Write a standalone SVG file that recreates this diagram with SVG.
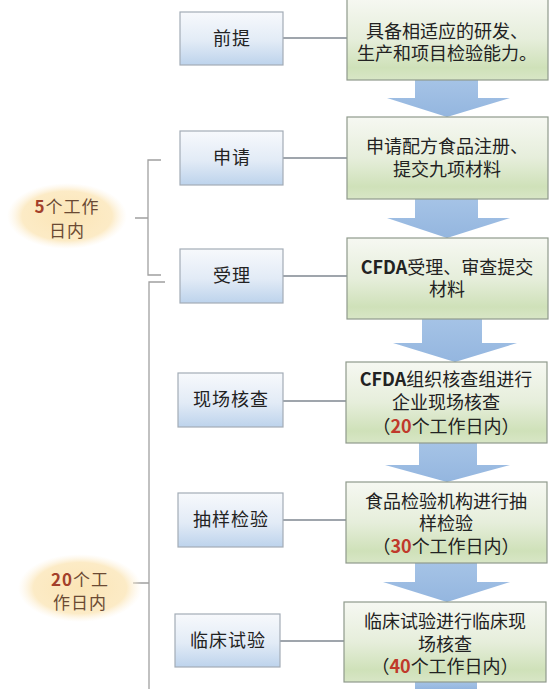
<svg xmlns="http://www.w3.org/2000/svg" width="558" height="689" viewBox="0 0 558 689">
<defs>
<linearGradient id="gBlue" x1="0" y1="0" x2="0" y2="1">
<stop offset="0" stop-color="#f7f9fc"/>
<stop offset="0.55" stop-color="#e2ebf6"/>
<stop offset="1" stop-color="#bdd3ec"/>
</linearGradient>
<linearGradient id="gGreen" x1="0" y1="0" x2="0" y2="1">
<stop offset="0" stop-color="#f6f8f2"/>
<stop offset="0.5" stop-color="#e6eedb"/>
<stop offset="0.85" stop-color="#cfe1b9"/>
<stop offset="1" stop-color="#d8e6c6"/>
</linearGradient>
<linearGradient id="gArrow" x1="0" y1="0" x2="0" y2="1">
<stop offset="0" stop-color="#a5c3e6"/>
<stop offset="1" stop-color="#94b6df"/>
</linearGradient>
<radialGradient id="gEll" cx="0.5" cy="0.5" r="0.5">
<stop offset="0" stop-color="#fbe5b6"/>
<stop offset="0.75" stop-color="#fcebc6"/>
<stop offset="1" stop-color="#fdf3e0" stop-opacity="0"/>
</radialGradient>
<style>
.lb{fill:url(#gBlue);stroke:#a3acb6;stroke-width:1.2}
.rb{fill:url(#gGreen);stroke:#8f9a8c;stroke-width:1.2}
.t{font-family:"Noto Sans CJK SC","Noto Sans",sans-serif;font-size:18px;fill:#222;text-anchor:middle}
.lt{letter-spacing:1px}
.b{font-weight:bold}
.red{fill:#c0392b;font-weight:bold}
.et{font-family:"Noto Sans CJK SC","Noto Sans",sans-serif;font-size:17px;fill:#6b4a33;text-anchor:middle;letter-spacing:1px}
.num{fill:#a3402a;font-weight:bold}
.ln{stroke:#7f8790;stroke-width:1.3;fill:none}
.br{stroke:#a0a0a0;stroke-width:1.3;fill:none}
.ar{fill:url(#gArrow)}
</style>
</defs>
<rect width="558" height="689" fill="#ffffff"/>

<g id="connectors">
<line class="ln" x1="283" y1="38" x2="347" y2="38"/>
<line class="ln" x1="283" y1="158" x2="347" y2="158"/>
<line class="ln" x1="283" y1="276" x2="347" y2="276"/>
<line class="ln" x1="283" y1="401" x2="346" y2="401"/>
<line class="ln" x1="283" y1="520" x2="346" y2="520"/>
<line class="ln" x1="280" y1="641" x2="344" y2="641"/>
<polygon class="ar" points="415,80 478,80 478,98 510,98 447,117 387,98 415,98"/>
<polygon class="ar" points="415,199 478,199 478,218 510,218 447,238 387,218 415,218"/>
<polygon class="ar" points="422,319 482,319 482,343 517,343 455,362 393,343 422,343"/>
<polygon class="ar" points="419,443 477,443 477,465 510,465 447,482 385,465 419,465"/>
<polygon class="ar" points="415,563 477,563 477,582 510,582 447,602 383,582 415,582"/>
<rect class="ar" x="415" y="682" width="62" height="7"/>
<path class="br" d="M161,160 L148,160 L148,275 L161,275 M148,218 L135,218"/>
<path class="br" d="M165,282 L149,282 L149,689 M149,583 L133,583"/>
</g>

<g id="n-5days">
<ellipse cx="67" cy="216" rx="60" ry="33" fill="url(#gEll)"/>
<text class="et" x="67" y="213"><tspan class="num">5</tspan>个工作</text>
<text class="et" x="67" y="237">日内</text>
</g>
<g id="n-20days">
<ellipse cx="80" cy="588" rx="62" ry="34" fill="url(#gEll)"/>
<text class="et" x="80" y="586"><tspan class="num">20</tspan>个工</text>
<text class="et" x="80" y="609">作日内</text>
</g>

<g id="n-qianti">
<rect class="lb" x="180" y="12" width="103" height="53"/>
<text class="t lt" x="232" y="45">前提</text>
</g>
<g id="n-shenqing">
<rect class="lb" x="180" y="131" width="103" height="54"/>
<text class="t lt" x="232" y="164">申请</text>
</g>
<g id="n-shouli">
<rect class="lb" x="180" y="249" width="103" height="54"/>
<text class="t lt" x="232" y="282">受理</text>
</g>
<g id="n-xianchang">
<rect class="lb" x="178" y="373" width="105" height="54"/>
<text class="t lt" x="231" y="406">现场核查</text>
</g>
<g id="n-chouyang">
<rect class="lb" x="178" y="493" width="105" height="54"/>
<text class="t lt" x="231" y="526">抽样检验</text>
</g>
<g id="n-linchuang">
<rect class="lb" x="175" y="614" width="105" height="53"/>
<text class="t lt" x="228" y="647">临床试验</text>
</g>

<g id="r-1">
<rect class="rb" x="347" y="-2" width="201" height="82"/>
<text class="t" x="447" y="38">具备相适应的研发、</text>
<text class="t" x="447" y="60">生产和项目检验能力。</text>
</g>
<g id="r-2">
<rect class="rb" x="347" y="117" width="201" height="82"/>
<text class="t" x="447" y="153">申请配方食品注册、</text>
<text class="t" x="447" y="176">提交九项材料</text>
</g>
<g id="r-3">
<rect class="rb" x="347" y="238" width="201" height="81"/>
<text class="t" x="447" y="274"><tspan class="b">CFDA</tspan>受理、审查提交</text>
<text class="t" x="447" y="296">材料</text>
</g>
<g id="r-4">
<rect class="rb" x="346" y="362" width="201" height="81"/>
<text class="t" x="446" y="386"><tspan class="b">CFDA</tspan>组织核查组进行</text>
<text class="t" x="446" y="409">企业现场核查</text>
<text class="t" x="446" y="433">（<tspan class="red">20</tspan>个工作日内）</text>
</g>
<g id="r-5">
<rect class="rb" x="346" y="482" width="201" height="81"/>
<text class="t" x="446" y="508">食品检验机构进行抽</text>
<text class="t" x="446" y="530">样检验</text>
<text class="t" x="446" y="553">（<tspan class="red">30</tspan>个工作日内）</text>
</g>
<g id="r-6">
<rect class="rb" x="344" y="602" width="202" height="80"/>
<text class="t" x="445" y="628">临床试验进行临床现</text>
<text class="t" x="445" y="651">场核查</text>
<text class="t" x="445" y="673">（<tspan class="red">40</tspan>个工作日内）</text>
</g>
</svg>
